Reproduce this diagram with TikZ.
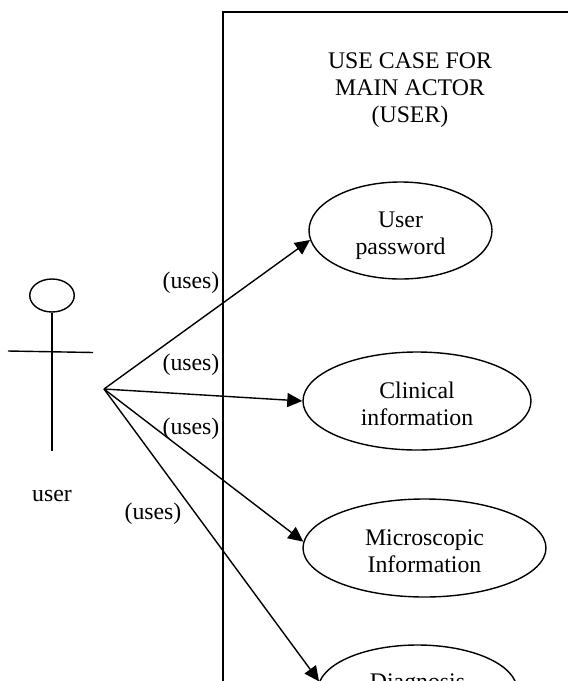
\documentclass[tikz,border=0pt]{standalone}
\usepackage{fontspec}
\setmainfont{Liberation Serif}
\usetikzlibrary{arrows.meta,shapes.geometric}
\newcommand{\tallline}{\rule{0pt}{22pt}}
\newcommand{\tallerline}{\rule{0pt}{26pt}}
\tikzset{
  ln/.style={line width=1.4pt},
  uc/.style={draw,line width=1.4pt,ellipse,inner sep=0pt,font=\fontsize{23.8}{27}\selectfont,align=center},
  lbl/.style={inner sep=0pt,font=\fontsize{23.8}{27}\selectfont,align=center,text=black},
  arr/.style={line width=1.4pt,-{Stealth[length=15pt,width=14pt,inset=0pt]}}
}
\begin{document}
\begin{tikzpicture}[x=1pt,y=-1pt]
\useasboundingbox (0,0) rectangle (568,681);
\fill[white] (0,0) rectangle (568,681);
\clip (0,0) rectangle (568,681);
\coordinate (tl) at (223,12);
\coordinate (tr) at (568,12);
\coordinate (bl) at (223,681);
\draw[ln] (bl) -- (tl) -- (tr);
\node[draw,ln,ellipse,minimum width=44.5pt,minimum height=33pt,inner sep=0pt] (head) at (52,295.5) {};
\coordinate (armL) at (8,351);
\coordinate (armR) at (93,352.5);
\coordinate (foot) at (52,451);
\draw[ln] (armL) -- (armR);
\draw[ln] (head.south) -- (foot);
\coordinate (hub) at (104,389);
\node[lbl] (title) at (410,87) {\tallline USE CASE FOR\\MAIN ACTOR\\(USER)};
\node[lbl] (actor) at (52,491) {\tallline user};
\node[uc,minimum width=183pt,minimum height=97pt] (a) at (400.5,230.5) {\tallerline User\\password};
\node[uc,minimum width=228pt,minimum height=98pt] (b) at (417,401) {\tallline Clinical\\information};
\node[uc,minimum width=243pt,minimum height=98pt] (c) at (424.5,548) {\tallline Microscopic\\Information};
\node[uc,minimum width=199pt,minimum height=90pt] (d) at (417.5,690) {\tallline Diagnosis\\[-4pt]\mbox{}};
\draw[arr] (hub) -- (a.186);
\draw[arr] (hub) -- (b.west);
\draw[arr] (hub) -- (c.177);
\draw[arr] (hub) -- (d.175);
\node[lbl] (u1) at (191,280) {\tallline (uses)};
\node[lbl] (u2) at (191,362) {\tallline (uses)};
\node[lbl] (u3) at (191,426) {\tallline (uses)};
\node[lbl] (u4) at (153,511) {\tallline (uses)};
\end{tikzpicture}
\end{document}
